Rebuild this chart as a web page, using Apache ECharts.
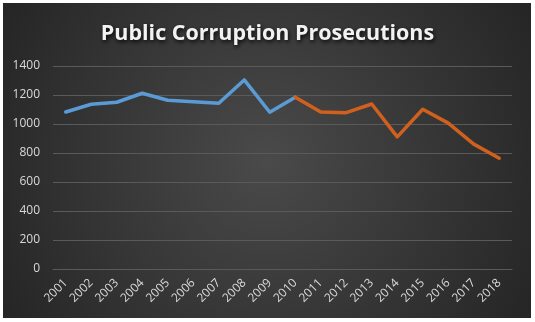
<!DOCTYPE html>
<html>
<head>
<meta charset="utf-8">
<style>
  html, body { margin: 0; padding: 0; background: #ffffff; }
  #chart { width: 535px; height: 322px; }
</style>
<script src="https://cdn.jsdelivr.net/npm/echarts@6/dist/echarts.min.js"></script>
</head>
<body>
<div id="chart"></div>
<script>
// Federal public corruption prosecutions per year
const years = ['2001','2002','2003','2004','2005','2006','2007','2008','2009','2010',
               '2011','2012','2013','2014','2015','2016','2017','2018'];
// first period (through 2010)
const earlyValues = [1083, 1136, 1150, 1212, 1164, 1154, 1143, 1304, 1081, 1185,
                     null, null, null, null, null, null, null, null];
// second period (from 2010 on)
const lateValues  = [null, null, null, null, null, null, null, null, null, 1185,
                     1083, 1078, 1138, 911, 1102, 1006, 861, 764];
const yTicks = { min: 0, max: 1400, interval: 200 };

const chart = echarts.init(document.getElementById('chart'), null, { renderer: 'canvas' });

chart.setOption({
  backgroundColor: '#ffffff',
  animation: false,
  graphic: [{
    type: 'rect',
    z: -10,
    shape: { x: 3, y: 3, width: 528, height: 315 },
    style: {
      fill: {
        type: 'radial', x: 0.5, y: 0.5, r: 0.95,
        colorStops: [
          { offset: 0, color: '#4a4a4a' },
          { offset: 1, color: '#262626' }
        ]
      }
    },
    silent: true
  }],
  title: {
    text: 'Public Corruption Prosecutions',
    left: 'center',
    top: 18,
    textStyle: {
      color: '#f2f2f2',
      fontFamily: 'Open Sans',
      fontWeight: 'bold',
      fontSize: 21.5,
      textShadowColor: 'rgba(0,0,0,0.9)',
      textShadowBlur: 4,
      textShadowOffsetX: 1,
      textShadowOffsetY: 2
    }
  },
  grid: { left: 53, right: 23, top: 66, bottom: 53, containLabel: false },
  xAxis: {
    type: 'category',
    data: years,
    boundaryGap: true,
    axisLine: { show: true, lineStyle: { color: '#5a5a5a', width: 1 } },
    axisTick: { show: false },
    axisLabel: {
      rotate: 45,
      interval: 0,
      margin: 12,
      color: '#d9d9d9',
      fontFamily: 'Open Sans',
      fontSize: 12
    }
  },
  yAxis: {
    type: 'value',
    min: yTicks.min,
    max: yTicks.max,
    interval: yTicks.interval,
    axisLine: { show: false },
    axisTick: { show: false },
    splitLine: { lineStyle: { color: '#5a5a5a', width: 1 } },
    axisLabel: {
      margin: 13,
      color: '#d9d9d9',
      fontFamily: 'Open Sans',
      fontSize: 12,
      formatter: (v) => String(v)
    }
  },
  series: [
    {
      type: 'line',
      data: earlyValues,
      symbol: 'none',
      connectNulls: false,
      lineStyle: { color: '#5b9bd5', width: 3.5, cap: 'round', join: 'round' }
    },
    {
      type: 'line',
      data: lateValues,
      symbol: 'none',
      connectNulls: false,
      lineStyle: { color: '#d0601e', width: 3.5, cap: 'round', join: 'round' }
    }
  ]
});
</script>
</body>
</html>
